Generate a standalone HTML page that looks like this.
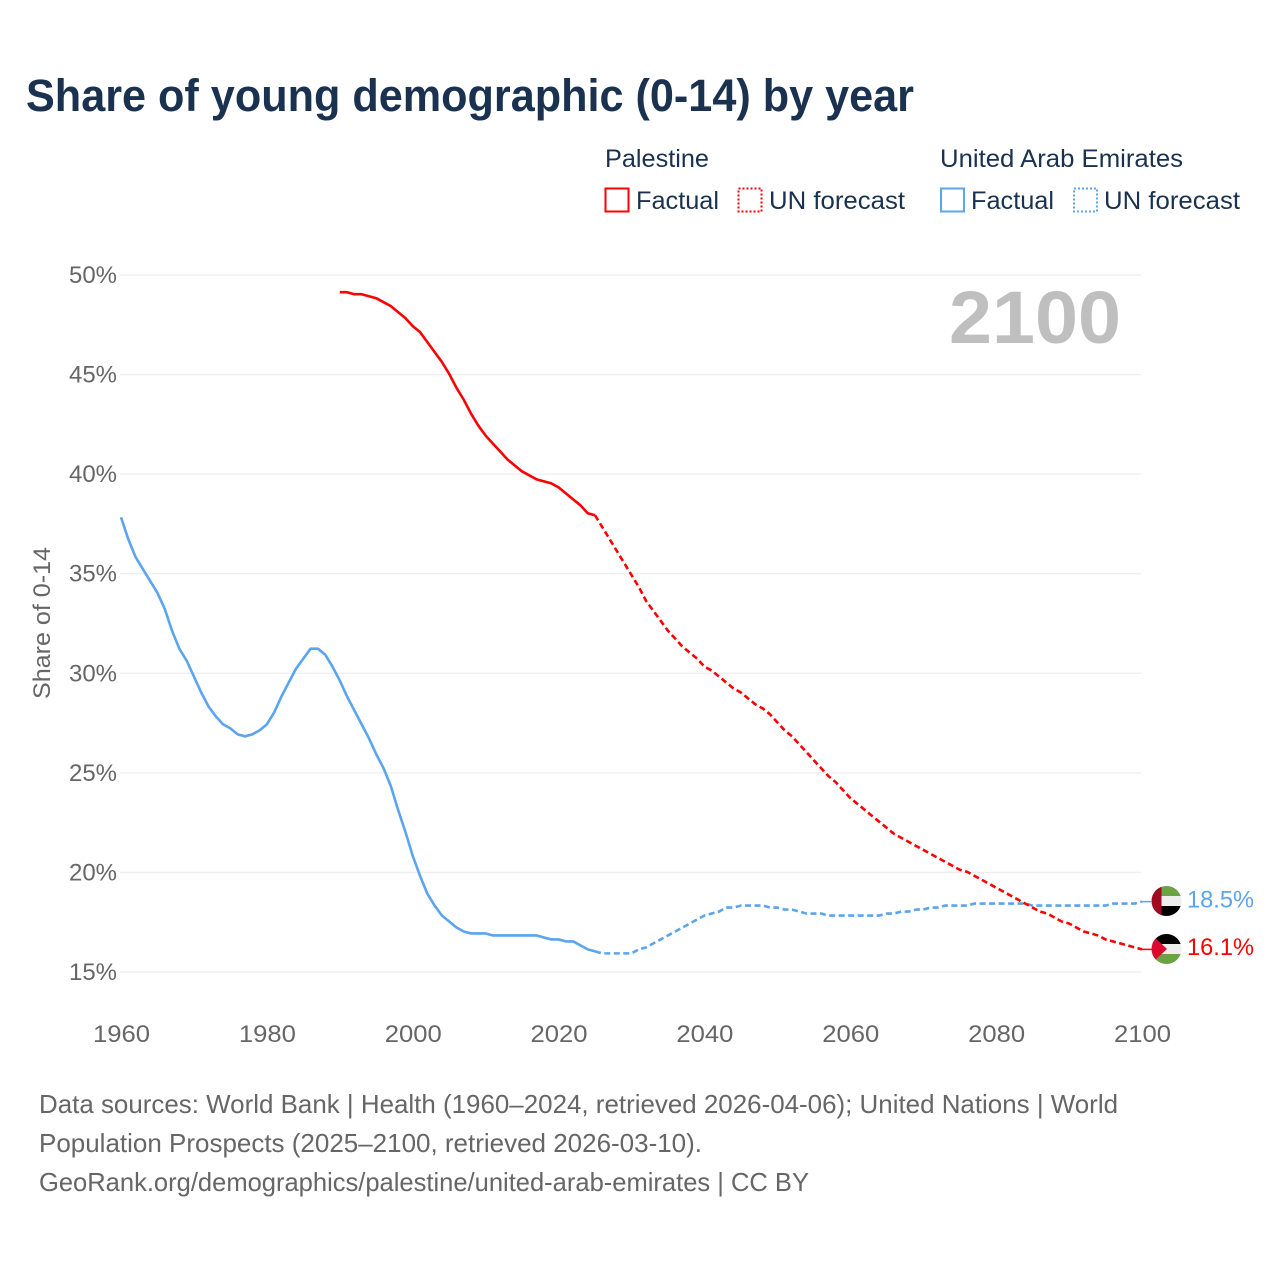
<!DOCTYPE html>
<html lang="en">
<head>
<meta charset="utf-8">
<title>Share of young demographic (0-14) by year</title>
<style>
html,body{margin:0;padding:0;background:#fff;}
svg{display:block;}
text{font-family:"Liberation Sans",sans-serif;}
</style>
</head>
<body>
<svg id="chart" xmlns="http://www.w3.org/2000/svg" width="1280" height="1280" viewBox="0 0 1280 1280">
  <defs>
    <clipPath id="flag-clip-uae"><circle id="clip-uae" cx="1166.5" cy="901" r="15"/></clipPath>
    <clipPath id="flag-clip-pse"><circle id="clip-pse" cx="1166.5" cy="949" r="15"/></clipPath>
  </defs>
  <rect width="1280" height="1280" fill="#fff"/>
  <text x="26" y="111" font-size="45" font-weight="bold" fill="#1a3150" textLength="888" lengthAdjust="spacingAndGlyphs">Share of young demographic (0-14) by year</text>

  <g font-size="25" fill="#1a3150">
    <text x="605" y="167" textLength="104" lengthAdjust="spacingAndGlyphs">Palestine</text>
    <rect x="605.5" y="188.5" width="23" height="23" fill="none" stroke="#ff0000" stroke-width="2"/>
    <text x="636" y="209" textLength="83" lengthAdjust="spacingAndGlyphs">Factual</text>
    <rect x="738.5" y="188.5" width="23" height="23" fill="none" stroke="#ff0000" stroke-width="2" stroke-dasharray="2 2"/>
    <text x="769" y="209" textLength="136" lengthAdjust="spacingAndGlyphs">UN forecast</text>
    <text x="940" y="167" textLength="243" lengthAdjust="spacingAndGlyphs">United Arab Emirates</text>
    <rect x="941" y="188.5" width="23" height="23" fill="none" stroke="#5ba4ee" stroke-width="2"/>
    <text x="971" y="209" textLength="83" lengthAdjust="spacingAndGlyphs">Factual</text>
    <rect x="1074" y="188.5" width="23" height="23" fill="none" stroke="#5ba4ee" stroke-width="2" stroke-dasharray="2 2"/>
    <text x="1104" y="209" textLength="136" lengthAdjust="spacingAndGlyphs">UN forecast</text>
  </g>

  <g id="grid"></g>
  <g id="y-ticks"></g>
  <g id="x-ticks"></g>
  <text transform="translate(50,699) rotate(-90)" font-size="24" fill="#666" textLength="152" lengthAdjust="spacingAndGlyphs">Share of 0-14</text>
  <text x="949" y="343" font-size="74" font-weight="bold" fill="#bfbfbf" textLength="172" lengthAdjust="spacingAndGlyphs">2100</text>
  <g id="series" transform="translate(0,-0.7)"></g>

  <g clip-path="url(#flag-clip-uae)">
    <rect x="1151" y="886" width="31" height="10" fill="#6aa343"/>
    <rect x="1151" y="896" width="31" height="10" fill="#eeeeee"/>
    <rect x="1151" y="906" width="31" height="10" fill="#000"/>
    <rect x="1151" y="886" width="10.5" height="30" fill="#9e0b22"/>
  </g>
  <g clip-path="url(#flag-clip-pse)">
    <rect x="1151" y="934" width="31" height="10" fill="#000"/>
    <rect x="1151" y="944" width="31" height="10" fill="#eeeeee"/>
    <rect x="1151" y="954" width="31" height="10" fill="#6aa343"/>
    <polygon points="1151,934 1167,949 1151,964" fill="#dc0a2e"/>
  </g>
  <g id="end-labels"></g>

  <g font-size="26" fill="#666">
    <text x="39" y="1113" textLength="1079" lengthAdjust="spacingAndGlyphs">Data sources: World Bank | Health (1960–2024, retrieved 2026-04-06); United Nations | World</text>
    <text x="39" y="1152" textLength="663" lengthAdjust="spacingAndGlyphs">Population Prospects (2025–2100, retrieved 2026-03-10).</text>
    <text x="39" y="1191" textLength="770" lengthAdjust="spacingAndGlyphs">GeoRank.org/demographics/palestine/united-arab-emirates | CC BY</text>
  </g>
</svg>
<script>
const yTicks = [15, 20, 25, 30, 35, 40, 45, 50];
const xTicks = [1960, 1980, 2000, 2020, 2040, 2060, 2080, 2100];

const uaeFactualStart = 1960;
const uaeFactual = [37.8,36.7,35.8,35.2,34.6,34.0,33.2,32.1,31.2,30.6,
  29.8,29.0,28.3,27.8,27.4,27.2,26.9,26.8,26.9,27.1,
  27.4,28.0,28.8,29.5,30.2,30.7,31.2,31.2,30.9,30.3,
  29.6,28.8,28.1,27.4,26.7,25.9,25.2,24.3,23.1,22.0,
  20.8,19.8,18.9,18.3,17.8,17.5,17.2,17.0,16.9,16.9,
  16.9,16.8,16.8,16.8,16.8,16.8,16.8,16.8,16.7,16.6,
  16.6,16.5,16.5,16.3,16.1,16.0];

const uaeForecastStart = 2025;
const uaeForecast = [16.0,15.9,15.9,15.9,15.9,15.9,16.1,16.2,16.4,16.6,
  16.8,17.0,17.2,17.4,17.6,17.8,17.9,18.0,18.2,18.2,
  18.3,18.3,18.3,18.3,18.2,18.2,18.1,18.1,18.0,17.9,
  17.9,17.9,17.8,17.8,17.8,17.8,17.8,17.8,17.8,17.8,
  17.9,17.9,18.0,18.0,18.1,18.1,18.2,18.2,18.3,18.3,
  18.3,18.3,18.4,18.4,18.4,18.4,18.4,18.4,18.4,18.4,
  18.3,18.3,18.3,18.3,18.3,18.3,18.3,18.3,18.3,18.3,
  18.3,18.4,18.4,18.4,18.4,18.5];

const palestineFactualStart = 1990;
const palestineFactual = [49.1,49.1,49.0,49.0,48.9,48.8,48.6,48.4,48.1,47.8,
  47.4,47.1,46.6,46.1,45.6,45.0,44.3,43.7,43.0,42.4,
  41.9,41.5,41.1,40.7,40.4,40.1,39.9,39.7,39.6,39.5,
  39.3,39.0,38.7,38.4,38.0,37.9];

const palestineForecastStart = 2025;
const palestineForecast = [37.9,37.3,36.7,36.1,35.5,34.9,34.3,33.6,33.1,32.6,
  32.1,31.7,31.3,31.0,30.7,30.3,30.1,29.8,29.5,29.2,
  29.0,28.7,28.4,28.2,27.9,27.5,27.1,26.8,26.4,26.0,
  25.6,25.2,24.8,24.5,24.1,23.7,23.4,23.1,22.8,22.5,
  22.2,21.9,21.7,21.5,21.3,21.1,20.9,20.7,20.5,20.3,
  20.1,20.0,19.8,19.6,19.4,19.2,19.0,18.8,18.6,18.4,
  18.2,18.0,17.9,17.7,17.5,17.4,17.2,17.0,16.9,16.8,
  16.6,16.5,16.4,16.3,16.2,16.1];

const NS = 'http://www.w3.org/2000/svg';
const RED = '#ff0000';
const BLUE = '#5ba4ee';

function xScale(year) { return 121 + (year - 1960) * (1142 - 121) / 140; }
function yScale(v) { return 972 - (v - 15) * (972 - 275) / 35; }

function make(tag, attrs, parent) {
  const el = document.createElementNS(NS, tag);
  for (const k in attrs) el.setAttribute(k, attrs[k]);
  parent.appendChild(el);
  return el;
}

const gridGroup = document.getElementById('grid');


const yTickGroup = document.getElementById('y-ticks');


const xTickGroup = document.getElementById('x-ticks');


const seriesGroup = document.getElementById('series');


const endGroup = document.getElementById('end-labels');



yTicks.forEach(function (t) {
  const line = make('line', {x1: 120, x2: 1141, y1: yScale(t), y2: yScale(t), stroke: '#eeeeee', 'stroke-width': 1.3}, gridGroup);
  
  
  const label = make('text', {x: 117, y: yScale(t) + 8, 'text-anchor': 'end', 'font-size': 24, fill: '#666', textLength: 48, lengthAdjust: 'spacingAndGlyphs'}, yTickGroup);
  
  
  label.textContent = t + '%';
});

xTicks.forEach(function (t) {
  const label = make('text', {x: xScale(t) - 28.5 + 0.5, y: 1042, 'font-size': 24, fill: '#666', textLength: 57, lengthAdjust: 'spacingAndGlyphs'}, xTickGroup);
  
  
  label.textContent = t;
});

function linePoints(start, values) {
  return values.map(function (v, i) {
    return xScale(start + i).toFixed(2) + ',' + yScale(v).toFixed(2);
  }).join(' ');
}

function drawLine(start, values, color, dashed) {
  const attrs = {points: linePoints(start, values), fill: 'none', stroke: color, 'stroke-width': 2.6, 'stroke-linejoin': 'round'};
  if (dashed) attrs['stroke-dasharray'] = '6 3.5';
  return make('polyline', attrs, seriesGroup);
}

const lineUaeFactual = drawLine(uaeFactualStart, uaeFactual, BLUE, false);


const lineUaeForecast = drawLine(uaeForecastStart, uaeForecast, BLUE, true);


const linePseFactual = drawLine(palestineFactualStart, palestineFactual, RED, false);


const linePseForecast = drawLine(palestineForecastStart, palestineForecast, RED, true);



const uaeLast = uaeForecast[uaeForecast.length - 1];
const pseLast = palestineForecast[palestineForecast.length - 1];

const connUae = make('line', {x1: xScale(2100), x2: 1152, y1: yScale(uaeLast) - 0.7, y2: yScale(uaeLast) - 0.7, stroke: BLUE, 'stroke-width': 1.5}, endGroup);


const connPse = make('line', {x1: xScale(2100), x2: 1152, y1: yScale(pseLast) - 0.7, y2: yScale(pseLast) - 0.7, stroke: RED, 'stroke-width': 1.5}, endGroup);



const labelUae = make('text', {x: 1187, y: yScale(uaeLast) + 5, 'font-size': 24, fill: BLUE, textLength: 67, lengthAdjust: 'spacingAndGlyphs'}, endGroup);


labelUae.textContent = uaeLast.toFixed(1) + '%';
const labelPse = make('text', {x: 1187, y: yScale(pseLast) + 5, 'font-size': 24, fill: RED, textLength: 67, lengthAdjust: 'spacingAndGlyphs'}, endGroup);


labelPse.textContent = pseLast.toFixed(1) + '%';
</script>
</body>
</html>
